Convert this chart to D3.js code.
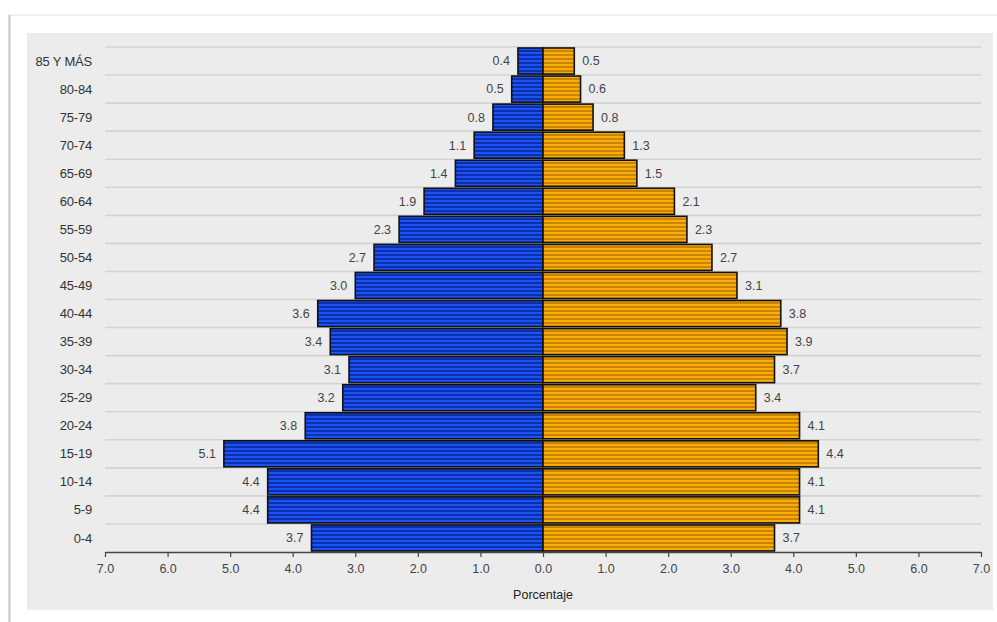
<!DOCTYPE html>
<html><head><meta charset="utf-8">
<script src="https://cdn.jsdelivr.net/npm/d3@7"></script>
<style>
html,body{margin:0;padding:0;background:#fff;}
svg{display:block;font-family:"Liberation Sans",Arial,sans-serif;}
</style></head>
<body>
<svg id="chart" width="997" height="622"></svg>
<script>
const ageGroups = ["85 Y MÁS","80-84","75-79","70-74","65-69","60-64","55-59","50-54","45-49","40-44","35-39","30-34","25-29","20-24","15-19","10-14","5-9","0-4"];
const maleValues = [0.4,0.5,0.8,1.1,1.4,1.9,2.3,2.7,3.0,3.6,3.4,3.1,3.2,3.8,5.1,4.4,4.4,3.7];
const femaleValues = [0.5,0.6,0.8,1.3,1.5,2.1,2.3,2.7,3.1,3.8,3.9,3.7,3.4,4.1,4.4,4.1,4.1,3.7];
const tickValues = [-7,-6,-5,-4,-3,-2,-1,0,1,2,3,4,5,6,7];
const axisTitle = "Porcentaje";

const svg = d3.select("#chart");

// card frame
svg.append("rect").attr("x",9).attr("y",15).attr("width",1000).attr("height",620)
  .attr("fill","#fff").attr("stroke","#f0f0f0").attr("stroke-width",2);
svg.append("line").attr("x1",9.5).attr("x2",9.5).attr("y1",15).attr("y2",622)
  .attr("stroke","#c8c8c8").attr("stroke-width",2);
svg.append("rect").attr("x",27).attr("y",33).attr("width",966).attr("height",577).attr("fill","#ececec");

const defs = svg.append("defs");
function stripes(id, light, dark){
  const p = defs.append("pattern").attr("id",id).attr("patternUnits","userSpaceOnUse")
    .attr("width",8).attr("height",4);
  p.append("rect").attr("width",8).attr("height",4).attr("fill",light);
  p.append("rect").attr("y",2).attr("width",8).attr("height",2).attr("fill",dark);
}
stripes("blueStripe","#1d52f2","#0b2fae");
stripes("orangeStripe","#f9ac0a","#c98500");

const x = d3.scaleLinear().domain([-7,7]).range([105,981]);
const y = d3.scaleBand().domain(ageGroups).range([47,552]).paddingInner(0.07).paddingOuter(0.035);

// gridlines at band boundaries
const gridYs = ageGroups.map((d,i)=> 47 + i*(505/18));
svg.append("g").selectAll("line").data(gridYs).join("line")
  .attr("x1",105).attr("x2",981).attr("y1",d=>d).attr("y2",d=>d)
  .attr("stroke","#d3d3d3").attr("stroke-width",1.6);

// bars
const rows = ageGroups.map((a,i)=>({age:a, m:maleValues[i], f:femaleValues[i]}));
svg.append("g").selectAll("rect").data(rows).join("rect")
  .attr("x",d=>x(-d.m)).attr("y",d=>y(d.age)).attr("width",d=>x(0)-x(-d.m)).attr("height",y.bandwidth())
  .attr("fill","url(#blueStripe)").attr("stroke","#111").attr("stroke-width",1.6);
svg.append("g").selectAll("rect").data(rows).join("rect")
  .attr("x",x(0)).attr("y",d=>y(d.age)).attr("width",d=>x(d.f)-x(0)).attr("height",y.bandwidth())
  .attr("fill","url(#orangeStripe)").attr("stroke","#111").attr("stroke-width",1.6);

// value labels
svg.append("g").selectAll("text").data(rows).join("text")
  .attr("x",d=>x(-d.m)-8).attr("y",d=>y(d.age)+y.bandwidth()/2).attr("dy","0.35em")
  .attr("text-anchor","end").attr("font-size",12.5).attr("fill","#444")
  .text(d=>d.m.toFixed(1));
svg.append("g").selectAll("text").data(rows).join("text")
  .attr("x",d=>x(d.f)+8).attr("y",d=>y(d.age)+y.bandwidth()/2).attr("dy","0.35em")
  .attr("text-anchor","start").attr("font-size",12.5).attr("fill","#444")
  .text(d=>d.f.toFixed(1));

// category labels
svg.append("g").selectAll("text").data(ageGroups).join("text")
  .attr("x",92).attr("y",d=>y(d)+y.bandwidth()/2).attr("dy","0.35em")
  .attr("text-anchor","end").attr("font-size",13).attr("fill","#333").attr("letter-spacing","-0.2")
  .text(d=>d);

// x axis
const axis = d3.axisBottom(x).tickValues(tickValues).tickSize(5).tickSizeOuter(0)
  .tickFormat(d=>Math.abs(d).toFixed(1));
const gx = svg.append("g").attr("transform","translate(0,552)").call(axis);
gx.select(".domain").attr("stroke","#444").attr("stroke-width",1.5);
gx.selectAll(".tick line").attr("stroke","#444").attr("stroke-width",1.2);
gx.selectAll(".tick text").attr("font-size",12.5).attr("fill","#444").attr("dy","1.05em")
  .attr("font-family","Liberation Sans, Arial, sans-serif");

svg.append("text").attr("x",x(0)).attr("y",599).attr("text-anchor","middle")
  .attr("font-size",12.5).attr("fill","#222").text(axisTitle);
</script>
</body></html>
